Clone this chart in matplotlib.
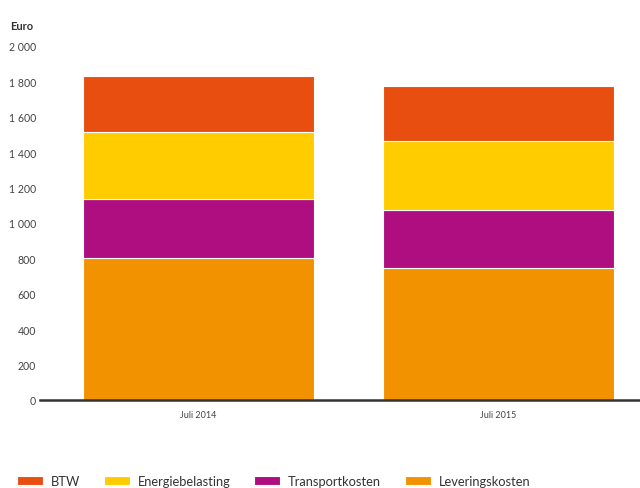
import matplotlib.pyplot as plt
from matplotlib.ticker import FuncFormatter

plt.rcParams['font.family'] = ['Lato', 'DejaVu Sans']

# data (euro per year)
periods = ['Juli 2014', 'Juli 2015']
levering = [800, 744]
transport = [336, 329]
energie = [376, 392]
btw = [317, 311]

series = ['Leveringskosten', 'Transportkosten', 'Energiebelasting', 'BTW']
colors = ['#F39200', '#AF0E80', '#FFCC00', '#E84E0F']

fig = plt.figure(figsize=(6.4, 4.89), dpi=100)
ax = fig.add_axes([0.0625, 0.18, 0.9375, 0.724])

x = list(range(len(periods)))
bottom = [0, 0]
bars = {}
for name, vals, col in zip(series, [levering, transport, energie, btw], colors):
    bars[name] = ax.bar(x, vals, 0.77, bottom=bottom, color=col,
                        edgecolor='white', linewidth=0.8, label=name)
    bottom = [b + v for b, v in zip(bottom, vals)]

ax.set_xlim(-0.528, 1.473)
ax.set_ylim(0, 2000)
ax.set_yticks(range(0, 2001, 200))
ax.yaxis.set_major_formatter(FuncFormatter(lambda v, p: f"{int(v):,}".replace(",", " ")))
ax.set_xticks(x)
ax.set_xticklabels(periods)

for s in ['top', 'right', 'left']:
    ax.spines[s].set_visible(False)
ax.spines['bottom'].set_color('#333333')
ax.spines['bottom'].set_linewidth(1.8)
ax.tick_params(axis='both', length=0, colors='#444444')
ax.tick_params(axis='y', labelsize=7.6, pad=3)
ax.tick_params(axis='x', labelsize=6.5, pad=7)

fig.text(0.016, 0.946, 'Euro', fontsize=8, fontweight='bold', color='#333333', va='center')

order = ['BTW', 'Energiebelasting', 'Transportkosten', 'Leveringskosten']
fig.legend([bars[n] for n in order], order, loc='lower left', bbox_to_anchor=(0.008, -0.021),
           ncol=4, frameon=False, fontsize=9.3, handlelength=2.0, handleheight=0.7,
           columnspacing=1.85, handletextpad=0.62, labelcolor='#333333')

fig.savefig('out.png', dpi=100)
